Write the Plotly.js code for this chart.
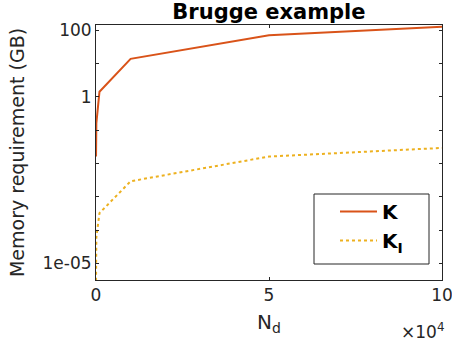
<!DOCTYPE html>
<html>
<head>
<meta charset="utf-8">
<script src="https://cdn.plot.ly/plotly-3.0.1.min.js"></script>
<style>html,body{margin:0;padding:0;background:#fff;}#chart{width:452px;height:350px;}</style>
</head>
<body>
<div id="chart"></div>
<script>
// Data (memory requirement in GB vs number of data points N_d)
const Nd = [10, 100, 1000, 10000, 50000, 100000];
const memK = [0.016, 0.16, 1.4, 13.6, 70, 126];
const memKI = [3e-6, 6e-5, 3.2e-4, 2.9e-3, 0.016, 0.029];
const seriesNames = ['<b>K</b>', '<b>K<sub>I</sub></b>'];
const xTickVals = [0, 50000, 100000];
const xTickText = ['0', '5', '10'];
const yTickVals = [1e-5, 1e-4, 1e-3, 1e-2, 1e-1, 1, 10, 100];
const yTickText = ['1e-05', ' ', ' ', ' ', ' ', '1', ' ', '100'];

const axisColor = '#262626';
const font = 'DejaVu Sans, sans-serif';

const traces = [
  {x: Nd, y: memK, name: seriesNames[0], type: 'scatter', mode: 'lines',
   line: {color: '#D95319', width: 2}},
  {x: Nd, y: memKI, name: seriesNames[1], type: 'scatter', mode: 'lines',
   line: {color: '#EDB120', width: 2, dash: 'dot'}}
];

const layout = {
  width: 452, height: 350,
  margin: {l: 96, r: 10, t: 25, b: 70},
  paper_bgcolor: '#fff', plot_bgcolor: '#fff',
  font: {family: font, color: axisColor, size: 18},
  title: {text: '<b>Brugge example</b>', font: {family: font, size: 21, color: '#000'},
          x: 0.595, xanchor: 'center', y: 0.988, yanchor: 'top'},
  xaxis: {
    range: [0, 100000], tickvals: xTickVals, ticktext: xTickText,
    ticks: 'inside', ticklen: 3, tickcolor: axisColor,
    showline: true, linecolor: axisColor, linewidth: 1, mirror: 'ticks',
    showgrid: false, zeroline: false, ticklabeloverflow: 'allow',
    tickfont: {family: font, size: 17, color: axisColor},
    title: {text: 'N<sub>d</sub>', font: {family: font, size: 20, color: axisColor}, standoff: 10}
  },
  yaxis: {
    type: 'log', range: [-5.50, 2.15], tickvals: yTickVals, ticktext: yTickText,
    ticks: 'inside', ticklen: 3, tickcolor: axisColor,
    showline: true, linecolor: axisColor, linewidth: 1, mirror: 'ticks',
    showgrid: false, zeroline: false,
    tickfont: {family: font, size: 17, color: axisColor},
    title: {text: 'Memory requirement (GB)', font: {family: font, size: 19, color: axisColor}, standoff: 12}
  },
  showlegend: true,
  legend: {
    x: (335 - 96) / 346, xanchor: 'left', y: (280 - 192) / 255, yanchor: 'top',
    bgcolor: 'rgba(0,0,0,0)', borderwidth: 0, itemwidth: 37,
    font: {family: font, size: 20, color: '#000'}
  },
  shapes: [
    {type: 'rect', xref: 'paper', yref: 'paper',
     x0: (314 - 96) / 346, x1: (429 - 96) / 346,
     y0: (280 - 264) / 255, y1: (280 - 194) / 255,
     line: {color: axisColor, width: 1}, fillcolor: '#fff', layer: 'below'}
  ],
  annotations: [
    {xref: 'paper', yref: 'paper', x: (446 - 96) / 346, y: (280 - 331) / 255,
     xanchor: 'right', yanchor: 'middle', showarrow: false,
     text: '×10<sup>4</sup>', font: {family: font, size: 17, color: axisColor}}
  ]
};

Plotly.newPlot('chart', traces, layout, {displayModeBar: false, staticPlot: true});
</script>
</body>
</html>
